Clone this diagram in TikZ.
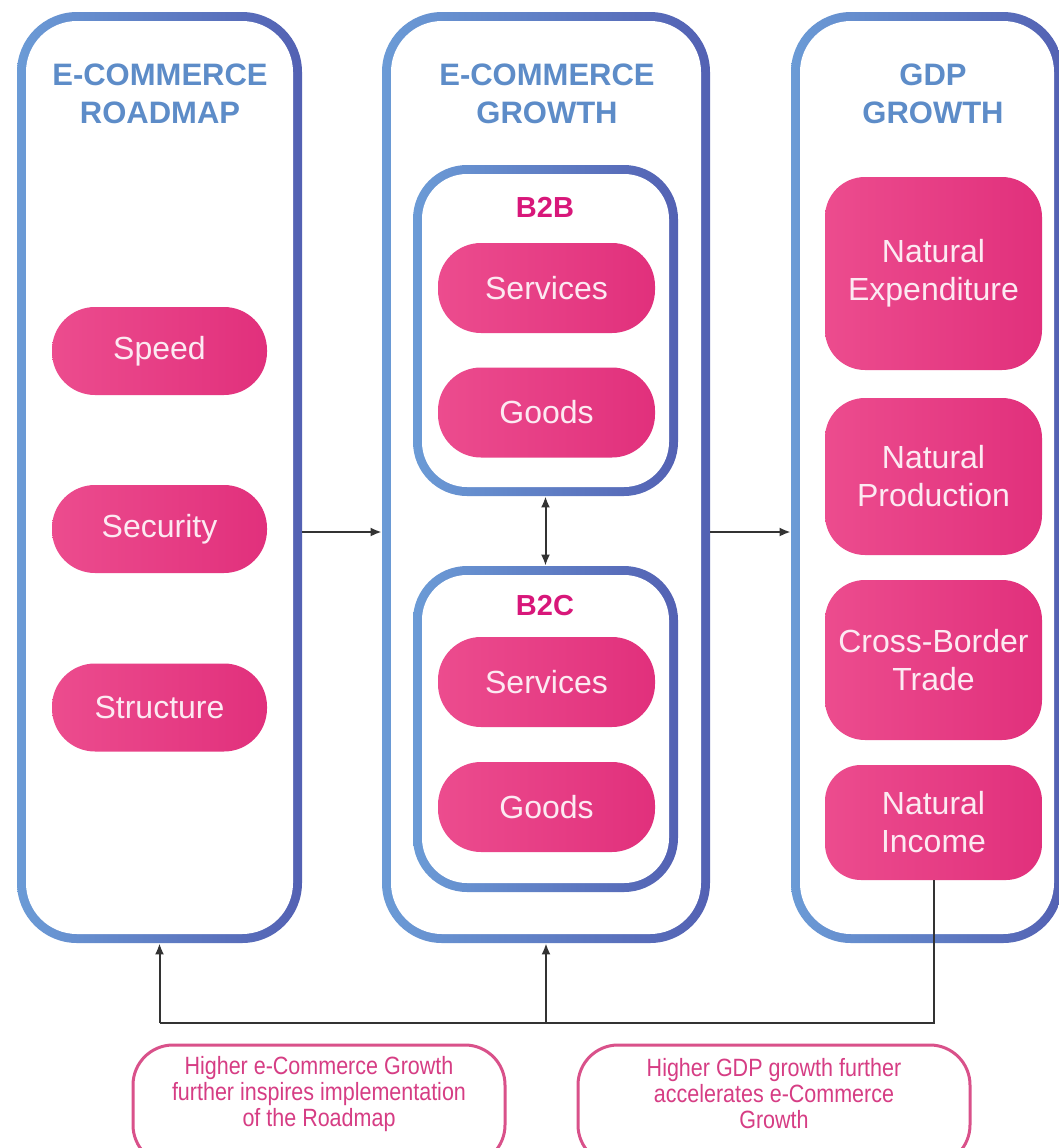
\documentclass[tikz,border=0pt]{standalone}
\usepackage{fontspec}
\setmainfont{Liberation Sans}
\newfontfamily\condfont[FakeStretch=0.86]{Liberation Sans}
\usetikzlibrary{arrows.meta}
\definecolor{blueL}{HTML}{6B9BD6}
\definecolor{blueR}{HTML}{5361B3}
\definecolor{titleBlue}{HTML}{5D8CC8}
\definecolor{pinkL}{HTML}{EC4C8E}
\definecolor{pinkR}{HTML}{E1307C}
\definecolor{pillText}{HTML}{FCEAF2}
\definecolor{subPink}{HTML}{D8177A}
\definecolor{fbText}{HTML}{D63D84}
\definecolor{fbLine}{HTML}{D9518A}
\definecolor{arrowGray}{HTML}{333333}
\begin{document}
\begin{tikzpicture}[x=0.5pt,y=-0.5pt,
  ring/.style 2 args={rounded corners=#1, left color=blueL, right color=blueR, draw=none, inner sep=0pt,
    path picture={\fill[white, rounded corners=#2] ([shift={(4.5pt,-4.5pt)}]path picture bounding box.north west) rectangle ([shift={(-4.5pt,4.5pt)}]path picture bounding box.south east);}},
  title/.style={font=\bfseries\fontsize{15.5}{19}\selectfont, text=titleBlue, align=center},
  sublabel/.style={font=\bfseries\fontsize{14.5}{17}\selectfont, text=subPink},
  pill/.style={rounded corners=21.5pt, left color=pinkL, right color=pinkR, draw=none, inner sep=0pt,
    text=pillText, font=\fontsize{16}{19}\selectfont, align=center, minimum width=107.5pt, minimum height=44pt},
  rpill/.style={pill, rounded corners=20pt, minimum width=108.5pt},
  fbbox/.style={draw=fbLine, line width=1.5pt, rounded corners=20pt, inner sep=0pt},
  fbtext/.style={text=fbText, font=\condfont\fontsize{12.5}{13}\selectfont, align=center, inner sep=0pt},
  arr/.style={draw=arrowGray, line width=1pt, -{Latex[length=5.5pt,width=4.5pt]}},
  darr/.style={draw=arrowGray, line width=1pt, {Latex[length=5.5pt,width=4.5pt]}-{Latex[length=5.5pt,width=4.5pt]}},
  link/.style={draw=arrowGray, line width=1pt}
]
\useasboundingbox[fill=white] (0,0) rectangle (1059,1148);

% panels
\node[ring={30pt}{25.5pt}, minimum width=142.5pt, minimum height=465.5pt] (lp) at (159.5,477.5) {};
\node[ring={30pt}{25.5pt}, minimum width=164pt, minimum height=465.5pt] (mp) at (546,477.5) {};
\node[ring={30pt}{25.5pt}, minimum width=136pt, minimum height=465.5pt] (rp) at (927,477.5) {};

% titles
\node[title] (lt) at (160,94) {E-COMMERCE\\ROADMAP};
\node[title] (mt) at (547,94) {E-COMMERCE\\GROWTH};
\node[title] (rt) at (933,94) {GDP\\GROWTH};

% inner boxes
\node[ring={27pt}{22.5pt}, minimum width=132.5pt, minimum height=165.5pt] (b2b) at (545.5,330.5) {};
\node[ring={27pt}{22.5pt}, minimum width=132.5pt, minimum height=163pt] (b2c) at (545.5,729) {};
\node[sublabel] (b2bl) at (545,207) {B2B};
\node[sublabel] (b2cl) at (545,606) {B2C};

% left pills
\node[pill] (speed) at (159.5,351) {Speed};
\node[pill] (security) at (159.5,529) {Security};
\node[pill] (structure) at (159.5,707.5) {Structure};

% middle pills
\node[pill, minimum width=108.5pt, minimum height=45pt] (b2bs) at (546.5,288) {Services};
\node[pill, minimum width=108.5pt, minimum height=45pt] (b2bg) at (546.5,412.5) {Goods};
\node[pill, minimum width=108.5pt, minimum height=45pt] (b2cs) at (546.5,682) {Services};
\node[pill, minimum width=108.5pt, minimum height=45pt] (b2cg) at (546.5,807) {Goods};

% right pills
\node[rpill, minimum height=96.5pt] (ne) at (933.5,273.5) {Natural\\Expenditure};
\node[rpill, minimum height=78.5pt] (np) at (933.5,476.5) {Natural\\Production};
\node[rpill, minimum height=80pt] (cbt) at (933.5,660) {Cross-Border\\Trade};
\node[rpill, minimum height=57.5pt, rounded corners=18pt] (ni) at (933.5,822.5) {Natural\\Income};

% connectors
\draw[arr] (lp.east |- 0,532) -- (mp.west |- 0,532);
\draw[arr] (mp.east |- 0,532) -- (rp.west |- 0,532);
\draw[darr] (b2b.south) -- (b2c.north);
\coordinate (fbr) at (ni.south |- 0,1023);
\coordinate (fbl) at (lp.south |- 0,1023);
\coordinate (fbm) at (mp.south |- 0,1023);
\draw[link] (ni.south) -- (fbr) -- (fbl);
\draw[arr] (fbl) -- (lp.south);
\draw[arr] (fbm) -- (mp.south);

% feedback boxes
\node[fbbox, minimum width=186pt, minimum height=60pt] (fb1) at (319,1105) {};
\node[fbtext] (fb1t) at (319,1094) {Higher e-Commerce Growth\\further inspires implementation\\of the Roadmap};
\node[fbbox, minimum width=196pt, minimum height=60pt] (fb2) at (774,1105) {};
\node[fbtext] (fb2t) at (774,1094) {Higher GDP growth further\\accelerates e-Commerce\\Growth};
\end{tikzpicture}
\end{document}
